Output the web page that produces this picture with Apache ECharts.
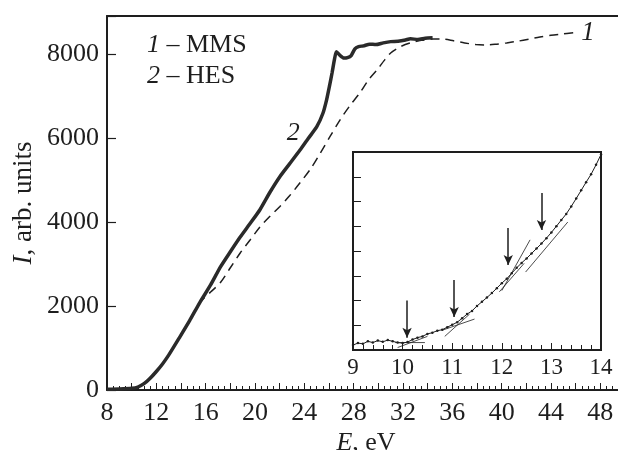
<!DOCTYPE html>
<html>
<head>
<meta charset="utf-8">
<script src="https://cdn.jsdelivr.net/npm/echarts@6/dist/echarts.min.js"></script>
<style>
  html, body { margin: 0; padding: 0; background: #fff; }
  #chart { width: 618px; height: 450px; }
</style>
</head>
<body>
<div id="chart"></div>
<script>
// curve 2 - HES (solid)
const hesE = [8, 9, 10, 10.5, 11, 11.5, 12, 12.5, 13, 13.9, 14.7, 15.5, 16.4, 17.2, 18, 18.8, 19.6, 20.4, 21.2, 22, 22.8, 23.65, 24.3, 25, 25.5, 25.8, 26.05, 26.25, 26.45, 26.6, 26.9, 27.2, 27.5, 27.8, 28.1, 28.4, 28.8, 29.3, 29.8, 30.4, 31, 31.6, 32.2, 32.6, 33.2, 33.8, 34.4]
const hesI = [20, 25, 40, 70, 150, 280, 440, 620, 830, 1260, 1650, 2070, 2500, 2930, 3290, 3640, 3960, 4290, 4700, 5070, 5380, 5710, 5980, 6260, 6580, 6900, 7250, 7550, 7880, 8050, 7960, 7900, 7910, 7960, 8120, 8170, 8190, 8230, 8220, 8260, 8290, 8300, 8330, 8360, 8340, 8370, 8380]

// curve 1 - MMS (dashed)
const mmsE = [8, 9, 10, 10.5, 11, 11.5, 12, 12.5, 13, 13.9, 14.7, 15.5, 16.4, 17.2, 18, 18.8, 19.6, 20.4, 21.2, 22, 22.8, 23.65, 24.5, 25.3, 26.1, 26.9, 27.7, 28.5, 29.2, 29.9, 30.5, 31, 31.8, 32.6, 33.5, 34.4, 35.3, 36.1, 37, 37.9, 38.8, 39.6, 40.4, 41.3, 42.2, 43.1, 44, 44.9, 45.8]
const mmsI = [20, 25, 40, 70, 150, 280, 440, 620, 830, 1260, 1650, 2070, 2330, 2560, 2910, 3260, 3570, 3880, 4130, 4360, 4620, 4930, 5260, 5640, 6040, 6430, 6770, 7070, 7380, 7620, 7850, 8020, 8170, 8260, 8320, 8350, 8350, 8310, 8260, 8220, 8210, 8230, 8260, 8300, 8350, 8400, 8440, 8470, 8500]

// inset: low-energy part of HES
const insetE = [9.0, 9.1, 9.2, 9.3, 9.4, 9.5, 9.6, 9.7, 9.8, 9.9, 10.0, 10.1, 10.2, 10.3, 10.4, 10.5, 10.6, 10.7, 10.8, 10.9, 11.0, 11.1, 11.2, 11.3, 11.4, 11.5, 11.6, 11.7, 11.8, 11.9, 12.0, 12.1, 12.2, 12.3, 12.4, 12.5, 12.6, 12.7, 12.8, 12.9, 13.0, 13.1, 13.2, 13.3, 13.4, 13.5, 13.6, 13.7, 13.8, 13.9, 14.0]
const insetI = [0.20, 0.28, 0.25, 0.35, 0.30, 0.38, 0.33, 0.40, 0.35, 0.30, 0.28, 0.32, 0.42, 0.50, 0.55, 0.65, 0.70, 0.78, 0.82, 0.92, 1.02, 1.12, 1.28, 1.45, 1.58, 1.78, 1.95, 2.12, 2.30, 2.50, 2.70, 2.88, 3.10, 3.32, 3.52, 3.70, 3.90, 4.10, 4.30, 4.52, 4.75, 5.00, 5.25, 5.50, 5.80, 6.12, 6.45, 6.78, 7.10, 7.48, 7.90]

// tangent segments [E0, I0, E1, I1]
const tangents = [
  [9.85, 0.30, 10.45, 0.30],
  [9.90, 0.10, 10.50, 0.55],
  [10.85, 0.55, 11.35, 1.45],
  [10.80, 0.80, 11.45, 1.25],
  [12.00, 2.40, 12.57, 4.45],
  [11.95, 2.35, 12.45, 3.50],
  [12.48, 3.15, 13.33, 5.17]
]
// arrows [E, from, to]
const arrows = [
  [10.09, 2.00, 0.50],
  [11.04, 2.83, 1.33],
  [12.13, 4.93, 3.43],
  [12.80, 6.34, 4.85]
]

const mainTicksY = [0, 2000, 4000, 6000, 8000]
const insetTicksX = [9, 10, 11, 12, 13, 14]

const font = 'Liberation Serif'
const ink = '#1e1e1e'
const zip = (a, b) => a.map((v, i) => [v, b[i]])

const myChart = echarts.init(document.getElementById('chart'))

const tangentSeries = tangents.map(t => ({
  type: 'line',
  xAxisIndex: 2,
  yAxisIndex: 1,
  data: [[t[0], t[1]], [t[2], t[3]]],
  symbol: 'none',
  silent: true,
  lineStyle: { color: ink, width: 0.8 },
  z: 8
}))

const italic = size => ({ i: { fontFamily: font, fontStyle: 'italic', fontSize: size, color: ink } })

const option = {
  animation: false,
  backgroundColor: '#fff',
  textStyle: { fontFamily: font, color: ink },
  grid: [
    { left: 107, top: 16, right: -7, bottom: 60, outerBoundsMode: 'none', containLabel: false },
    { left: 353, top: 152, width: 248, height: 198, outerBoundsMode: 'none', containLabel: false, show: true, backgroundColor: '#fff', borderColor: ink, borderWidth: 2, z: 5 }
  ],
  xAxis: [
    {
      gridIndex: 0, type: 'value', min: 8, max: 50, interval: 2,
      name: '{i|E}, eV', nameLocation: 'middle', nameGap: 40, nameMoveOverlap: false,
      nameTextStyle: { fontFamily: font, fontSize: 26, color: ink, rich: italic(26) },
      splitLine: { show: false },
      axisLine: { lineStyle: { color: ink, width: 2 } },
      axisTick: { inside: true, length: 7, lineStyle: { color: ink, width: 1 } },
      minorTick: { show: true, splitNumber: 4, length: 4, lineStyle: { color: ink, width: 1 } },
      axisLabel: {
        margin: 10, fontSize: 26, fontFamily: font, color: ink,
        formatter: v => (v % 4 === 0 && v <= 48 ? String(v) : '')
      }
    },
    {
      // top frame line
      gridIndex: 0, type: 'value', position: 'top', min: 8, max: 50,
      axisLine: { show: true, lineStyle: { color: ink, width: 2 } },
      axisTick: { show: false }, axisLabel: { show: false }, splitLine: { show: false }
    },
    {
      gridIndex: 1, type: 'value', min: 9, max: 14, interval: 1, z: 6,
      splitLine: { show: false },
      axisLine: { lineStyle: { color: ink, width: 2 } },
      axisTick: { inside: true, length: 7, lineStyle: { color: ink, width: 1 } },
      minorTick: { show: true, splitNumber: 5, length: 5, lineStyle: { color: ink, width: 1 } },
      axisLabel: { margin: 6, fontSize: 23, fontFamily: font, color: ink, formatter: v => (insetTicksX.includes(v) ? String(v) : '') }
    }
  ],
  yAxis: [
    {
      gridIndex: 0, type: 'value', min: 0, max: 8900, interval: 2000,
      name: '{i|I}, arb. units', nameLocation: 'middle', nameGap: 70, nameMoveOverlap: false,
      nameTextStyle: { fontFamily: font, fontSize: 27, color: ink, rich: italic(27) },
      splitLine: { show: false },
      axisLine: { lineStyle: { color: ink, width: 2 } },
      axisTick: { inside: true, length: 9, lineStyle: { color: ink, width: 1.2 } },
      axisLabel: {
        margin: 8, fontSize: 26, fontFamily: font, color: ink,
        formatter: v => (mainTicksY.includes(v) ? String(v) : '')
      }
    },
    {
      gridIndex: 1, type: 'value', min: 0, max: 8, interval: 1, z: 6,
      splitLine: { show: false },
      axisLine: { lineStyle: { color: ink, width: 2 } },
      axisTick: { inside: true, length: 8, lineStyle: { color: ink, width: 1 } },
      axisLabel: { show: false }
    }
  ],
  graphic: [
    {
      type: 'text', left: 147, top: 32, z: 10,
      style: { text: '{i|1} – MMS', font: '26px ' + font, fill: ink, rich: italic(26) }
    },
    {
      type: 'text', left: 147, top: 63, z: 10,
      style: { text: '{i|2} – HES', font: '26px ' + font, fill: ink, rich: italic(26) }
    }
  ],
  series: [
    {
      name: 'MMS', type: 'line', xAxisIndex: 0, yAxisIndex: 0,
      data: zip(mmsE, mmsI), smooth: 0.3, symbol: 'none',
      lineStyle: { color: ink, width: 1.5, type: [9, 6] },
      endLabel: { show: true, formatter: '1', distance: 8, fontFamily: font, fontStyle: 'italic', fontSize: 27, color: ink }
    },
    {
      name: 'HES', type: 'line', xAxisIndex: 0, yAxisIndex: 0,
      data: zip(hesE, hesI), smooth: 0.2, symbol: 'none',
      lineStyle: { color: '#2a2a2a', width: 3.5 },
      markPoint: {
        symbol: 'circle', symbolSize: 0,
        label: { show: true, position: 'inside', formatter: '2', fontFamily: font, fontStyle: 'italic', fontSize: 26, color: ink },
        data: [{ coord: [23.1, 6120] }]
      }
    },
    {
      name: 'inset', type: 'line', xAxisIndex: 2, yAxisIndex: 1,
      data: zip(insetE, insetI), symbol: 'circle', symbolSize: 2.5,
      itemStyle: { color: ink },
      lineStyle: { color: ink, width: 1 },
      z: 8,
      markLine: {
        silent: true, symbol: ['none', 'arrow'], symbolSize: [7, 10],
        label: { show: false },
        lineStyle: { color: ink, width: 1.5, type: 'solid' },
        data: arrows.map(a => [{ coord: [a[0], a[1]] }, { coord: [a[0], a[2]] }])
      }
    }
  ].concat(tangentSeries)
}

myChart.setOption(option)
</script>
</body>
</html>
